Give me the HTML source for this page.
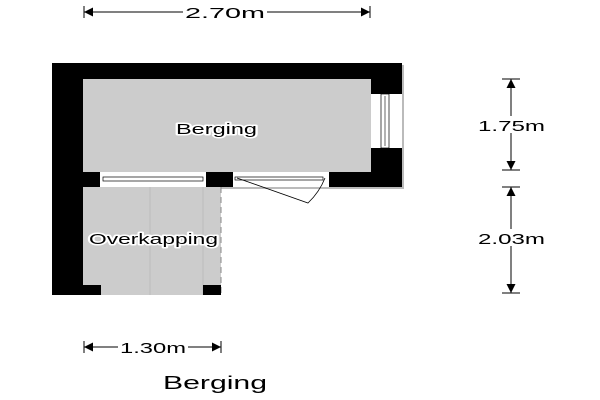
<!DOCTYPE html>
<html><head><style>body{margin:0;background:#fff}svg{display:block}</style></head><body>
<svg width="600" height="400" viewBox="0 0 600 400" xmlns="http://www.w3.org/2000/svg" font-family="Liberation Sans, sans-serif">
<defs>
<marker id="a" viewBox="0 0 10 10" refX="10" refY="5" markerWidth="9" markerHeight="9" markerUnits="userSpaceOnUse" orient="auto-start-reverse"><path d="M0,0L10,5L0,10z" fill="#000"/></marker>
</defs>
<rect x="54" y="65" width="350" height="124" fill="#555" opacity="0.4"/>
<rect x="52" y="63" width="350" height="124" fill="#000"/>
<rect x="52" y="63" width="31" height="232" fill="#000"/>
<rect x="83" y="79" width="288" height="93" fill="#ccc"/>
<rect x="371" y="94" width="31" height="54" fill="#fff"/>
<rect x="381" y="94" width="8" height="54" fill="#fff" stroke="#000" stroke-width="0.7"/>
<line x1="385" y1="96" x2="385" y2="146" stroke="#000" stroke-width="0.6"/>
<rect x="100" y="172" width="106" height="15" fill="#fff"/>
<rect x="103" y="177" width="100" height="4" fill="#fff" stroke="#000" stroke-width="0.7"/>
<rect x="233" y="172" width="96" height="15" fill="#fff"/>
<rect x="235" y="177" width="88" height="3" fill="#fff" stroke="#000" stroke-width="0.7"/>
<path d="M237,178 L308,203 A70,70 0 0 0 325,178" fill="none" stroke="#000" stroke-width="0.8"/>
<rect x="83" y="187" width="138" height="108" fill="#ccc"/>
<line x1="150" y1="187" x2="150" y2="295" stroke="#bbb" stroke-width="1"/>
<line x1="203" y1="187" x2="203" y2="295" stroke="#bbb" stroke-width="1"/>
<line x1="221" y1="187" x2="221" y2="295" stroke="#888" stroke-width="1" stroke-dasharray="6,4"/>
<rect x="83" y="285" width="18" height="10" fill="#000"/>
<rect x="203" y="285" width="18" height="10" fill="#000"/>
<g stroke="#fff" stroke-width="3" paint-order="stroke" stroke-linejoin="round">
<text x="176" y="134" font-size="15" textLength="81" lengthAdjust="spacingAndGlyphs">Berging</text>
<text x="89" y="244" font-size="15" textLength="129" lengthAdjust="spacingAndGlyphs">Overkapping</text>
</g>
<line x1="84" y1="12" x2="370" y2="12" stroke="#000" marker-start="url(#a)" marker-end="url(#a)"/>
<line x1="84" y1="6" x2="84" y2="18" stroke="#000"/><line x1="370" y1="6" x2="370" y2="18" stroke="#000"/>
<rect x="183" y="3" width="84" height="16" fill="#fff"/>
<text x="185" y="18" font-size="15" textLength="80" lengthAdjust="spacingAndGlyphs">2.70m</text>
<line x1="511" y1="79" x2="511" y2="170" stroke="#000" marker-start="url(#a)" marker-end="url(#a)"/>
<line x1="502" y1="79" x2="520" y2="79" stroke="#000"/><line x1="502" y1="170" x2="520" y2="170" stroke="#000"/>
<rect x="476" y="116" width="70" height="17" fill="#fff"/>
<text x="478" y="131" font-size="15" textLength="67" lengthAdjust="spacingAndGlyphs">1.75m</text>
<line x1="511" y1="187" x2="511" y2="293" stroke="#000" marker-start="url(#a)" marker-end="url(#a)"/>
<line x1="502" y1="187" x2="520" y2="187" stroke="#000"/><line x1="502" y1="293" x2="520" y2="293" stroke="#000"/>
<rect x="476" y="229" width="70" height="17" fill="#fff"/>
<text x="478" y="244" font-size="15" textLength="67" lengthAdjust="spacingAndGlyphs">2.03m</text>
<line x1="84" y1="347" x2="221" y2="347" stroke="#000" marker-start="url(#a)" marker-end="url(#a)"/>
<line x1="84" y1="341" x2="84" y2="353" stroke="#000"/><line x1="221" y1="341" x2="221" y2="353" stroke="#000"/>
<rect x="118" y="338" width="70" height="17" fill="#fff"/>
<text x="120" y="353" font-size="15" textLength="66" lengthAdjust="spacingAndGlyphs">1.30m</text>
<text x="163" y="389" font-size="18" textLength="104" lengthAdjust="spacingAndGlyphs">Berging</text>
</svg>
</body></html>
